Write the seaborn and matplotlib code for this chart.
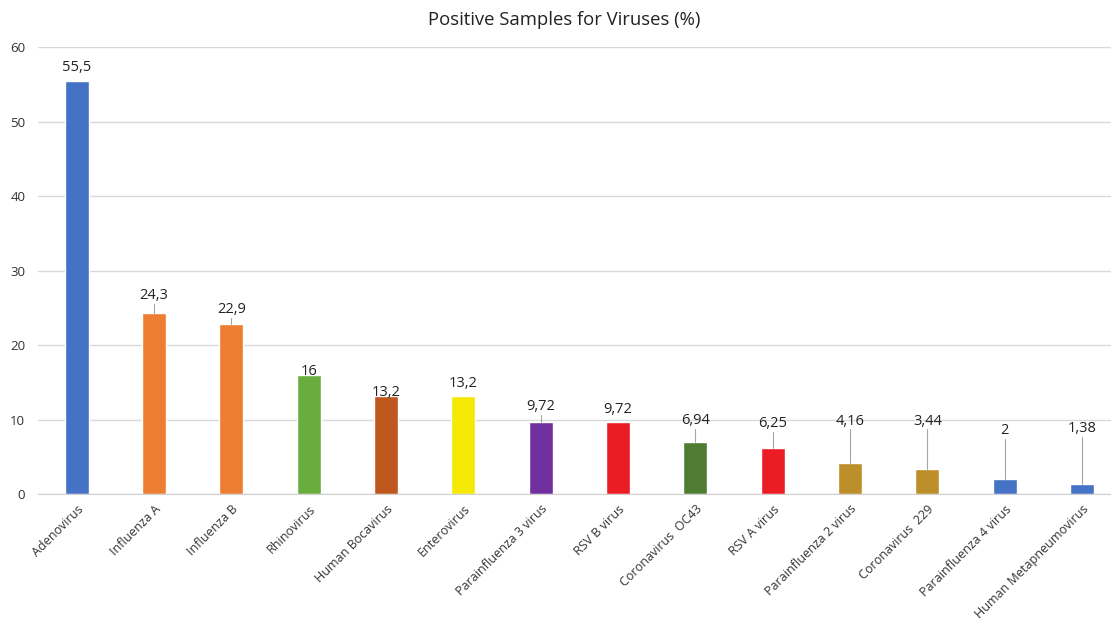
import matplotlib
matplotlib.use("Agg")
import matplotlib.pyplot as plt
import seaborn as sns
import pandas as pd

viruses = [
    "Adenovirus", "Influenza A", "Influenza B", "Rhinovirus", "Human Bocavirus",
    "Enterovirus", "Parainfluenza 3 virus", "RSV B virus", "Coronavirus  OC43",
    "RSV A virus", "Parainfluenza 2 virus", "Coronavirus  229",
    "Parainfluenza 4 virus", "Human Metapneumovirus",
]
positive_pct = [55.5, 24.3, 22.9, 16, 13.2, 13.2, 9.72, 9.72, 6.94, 6.25, 4.16, 3.44, 2, 1.38]
value_labels = ["55,5", "24,3", "22,9", "16", "13,2", "13,2", "9,72", "9,72",
                "6,94", "6,25", "4,16", "3,44", "2", "1,38"]
yticks = [0, 10, 20, 30, 40, 50, 60]

bar_colors = ["#4472C4", "#ED7D31", "#ED7D31", "#6AAD3F", "#C0571F", "#F5E805",
              "#7030A0", "#EC1C24", "#4E7D32", "#EC1C24", "#BC8F2A", "#BC8F2A",
              "#4472C4", "#4472C4"]

# label centre heights (data units) for the callouts
label_y = [57.2, 26.6, 24.8, 16.4, 13.7, 14.8, 11.7, 11.4, 9.9, 9.5, 9.8, 9.8, 8.5, 8.8]

df = pd.DataFrame({"virus": viruses, "pct": positive_pct})

sns.set_style("white")
plt.rcParams["font.family"] = ["Open Sans", "DejaVu Sans"]

fig = plt.figure(figsize=(11.11, 6.2), dpi=100)
ax = fig.add_axes([0.034, 0.203, 0.966, 0.721])

sns.barplot(data=df, x="virus", y="pct", hue="virus", palette=bar_colors,
            width=0.31, legend=False, ax=ax, saturation=1)

ax.set_ylim(0, 60)
ax.set_xlim(-0.505, 13.375)
ax.set_yticks(yticks)
ax.set_yticklabels([str(t) for t in yticks], fontsize=9.5, color="#333333")
ax.yaxis.grid(True, color="#D9D9D9", linewidth=1)
ax.set_axisbelow(True)
for side in ["top", "right", "left"]:
    ax.spines[side].set_visible(False)
ax.spines["bottom"].set_color("#D0D0D0")
ax.tick_params(axis="y", length=0, pad=9)
ax.tick_params(axis="x", length=0, pad=6)
ax.set_xlabel("")
ax.set_ylabel("")
ax.set_xticks(range(len(viruses)))
ax.set_xticklabels(viruses, rotation=45, ha="right", rotation_mode="anchor",
                   fontsize=9, color="#333333")

for i, (v, txt, ly) in enumerate(zip(positive_pct, value_labels, label_y)):
    ax.text(i, ly, txt, ha="center", va="center", fontsize=10.5, color="#222222")
    bottom_of_label = ly - 1.1
    if bottom_of_label > v + 0.6:
        ax.plot([i, i], [v, bottom_of_label], color="#A6A6A6", linewidth=0.8, zorder=1)

fig.text(0.508, 0.967, "Positive Samples for Viruses (%)", ha="center", va="center",
         fontsize=13.3, color="#222222")

fig.savefig("out.png", dpi=100)
